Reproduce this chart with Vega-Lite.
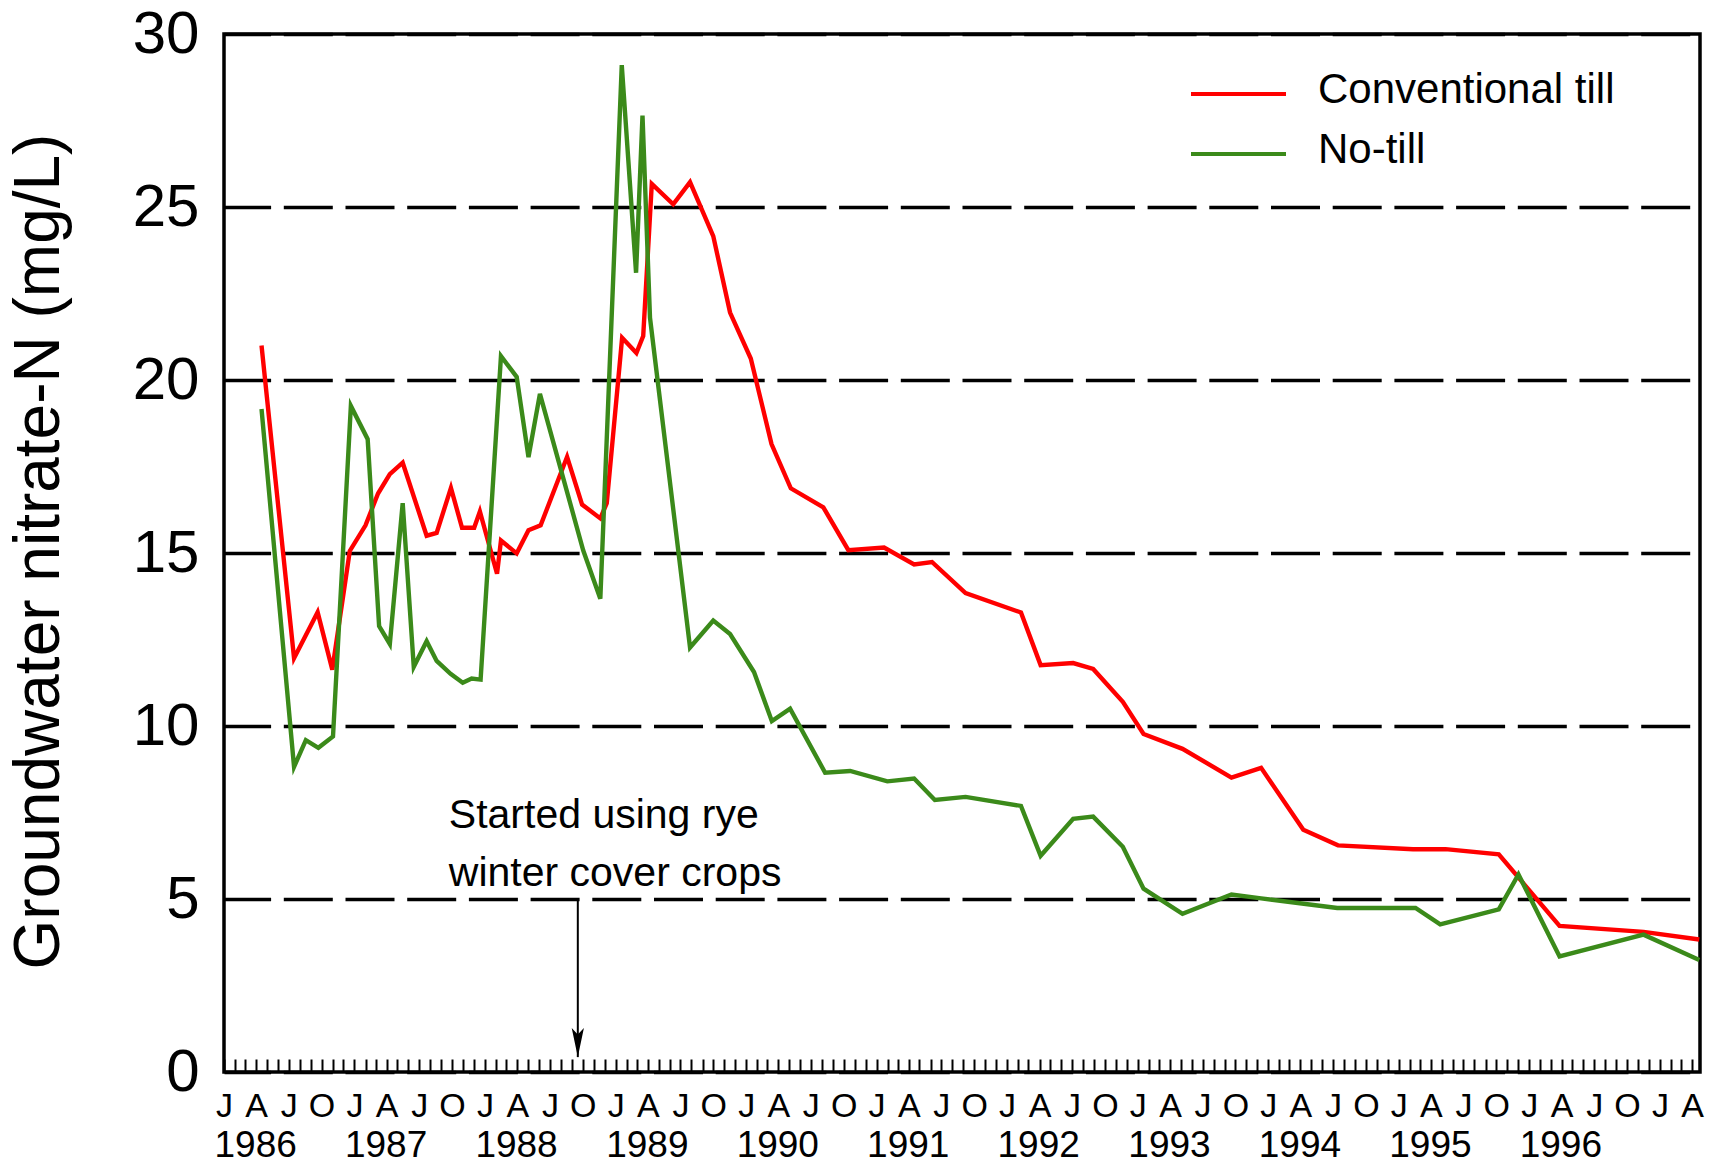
{
  "$schema": "https://vega.github.io/schema/vega-lite/v6.json",
  "width": 1476,
  "height": 1038,
  "autosize": {"type": "none"},
  "padding": {"left": 224, "top": 34, "right": 13, "bottom": 92},
  "background": "white",
  "config": {
    "view": {"stroke": "black", "strokeWidth": 3.5},
    "font": "Liberation Sans"
  },
  "datasets": {
    "series": [
      {"date": "1986-04-16", "series": "Conventional till", "value": 21.0},
      {"date": "1986-07-16", "series": "Conventional till", "value": 11.96},
      {"date": "1986-09-20", "series": "Conventional till", "value": 13.29},
      {"date": "1986-10-31", "series": "Conventional till", "value": 11.63},
      {"date": "1986-12-19", "series": "Conventional till", "value": 15.06},
      {"date": "1987-02-01", "series": "Conventional till", "value": 15.8},
      {"date": "1987-03-08", "series": "Conventional till", "value": 16.72},
      {"date": "1987-04-10", "series": "Conventional till", "value": 17.28},
      {"date": "1987-05-16", "series": "Conventional till", "value": 17.61},
      {"date": "1987-07-22", "series": "Conventional till", "value": 15.5},
      {"date": "1987-08-19", "series": "Conventional till", "value": 15.58},
      {"date": "1987-09-28", "series": "Conventional till", "value": 16.88},
      {"date": "1987-10-29", "series": "Conventional till", "value": 15.73},
      {"date": "1987-12-02", "series": "Conventional till", "value": 15.73},
      {"date": "1987-12-18", "series": "Conventional till", "value": 16.2},
      {"date": "1988-02-04", "series": "Conventional till", "value": 14.4},
      {"date": "1988-02-15", "series": "Conventional till", "value": 15.36},
      {"date": "1988-03-30", "series": "Conventional till", "value": 14.99},
      {"date": "1988-05-02", "series": "Conventional till", "value": 15.66},
      {"date": "1988-06-05", "series": "Conventional till", "value": 15.8},
      {"date": "1988-08-18", "series": "Conventional till", "value": 17.78},
      {"date": "1988-09-29", "series": "Conventional till", "value": 16.4},
      {"date": "1988-11-19", "series": "Conventional till", "value": 16.0},
      {"date": "1988-12-07", "series": "Conventional till", "value": 16.44},
      {"date": "1989-01-19", "series": "Conventional till", "value": 21.22},
      {"date": "1989-02-28", "series": "Conventional till", "value": 20.78},
      {"date": "1989-03-19", "series": "Conventional till", "value": 21.27},
      {"date": "1989-04-12", "series": "Conventional till", "value": 25.67},
      {"date": "1989-06-11", "series": "Conventional till", "value": 25.08},
      {"date": "1989-07-28", "series": "Conventional till", "value": 25.72},
      {"date": "1989-10-01", "series": "Conventional till", "value": 24.16},
      {"date": "1989-11-17", "series": "Conventional till", "value": 21.95},
      {"date": "1990-01-14", "series": "Conventional till", "value": 20.62},
      {"date": "1990-03-13", "series": "Conventional till", "value": 18.15},
      {"date": "1990-05-06", "series": "Conventional till", "value": 16.87},
      {"date": "1990-08-05", "series": "Conventional till", "value": 16.32},
      {"date": "1990-10-14", "series": "Conventional till", "value": 15.08},
      {"date": "1991-01-22", "series": "Conventional till", "value": 15.16},
      {"date": "1991-04-16", "series": "Conventional till", "value": 14.67},
      {"date": "1991-06-05", "series": "Conventional till", "value": 14.74},
      {"date": "1991-09-07", "series": "Conventional till", "value": 13.84},
      {"date": "1992-02-09", "series": "Conventional till", "value": 13.28},
      {"date": "1992-04-04", "series": "Conventional till", "value": 11.76},
      {"date": "1992-07-04", "series": "Conventional till", "value": 11.82},
      {"date": "1992-08-29", "series": "Conventional till", "value": 11.65},
      {"date": "1992-11-20", "series": "Conventional till", "value": 10.7},
      {"date": "1993-01-17", "series": "Conventional till", "value": 9.77},
      {"date": "1993-05-06", "series": "Conventional till", "value": 9.34},
      {"date": "1993-09-20", "series": "Conventional till", "value": 8.51},
      {"date": "1993-12-12", "series": "Conventional till", "value": 8.79},
      {"date": "1994-04-09", "series": "Conventional till", "value": 7.0},
      {"date": "1994-07-15", "series": "Conventional till", "value": 6.55},
      {"date": "1995-02-10", "series": "Conventional till", "value": 6.44},
      {"date": "1995-05-12", "series": "Conventional till", "value": 6.44},
      {"date": "1995-10-08", "series": "Conventional till", "value": 6.29},
      {"date": "1996-03-26", "series": "Conventional till", "value": 4.22},
      {"date": "1996-11-16", "series": "Conventional till", "value": 4.05},
      {"date": "1997-04-21", "series": "Conventional till", "value": 3.83},
      {"date": "1986-04-16", "series": "No-till", "value": 19.16},
      {"date": "1986-07-16", "series": "No-till", "value": 8.82},
      {"date": "1986-08-18", "series": "No-till", "value": 9.59},
      {"date": "1986-09-22", "series": "No-till", "value": 9.37},
      {"date": "1986-11-02", "series": "No-till", "value": 9.7},
      {"date": "1986-12-22", "series": "No-till", "value": 19.25},
      {"date": "1987-02-07", "series": "No-till", "value": 18.29},
      {"date": "1987-03-11", "series": "No-till", "value": 12.89},
      {"date": "1987-04-10", "series": "No-till", "value": 12.37},
      {"date": "1987-05-16", "series": "No-till", "value": 16.44},
      {"date": "1987-06-16", "series": "No-till", "value": 11.71},
      {"date": "1987-07-22", "series": "No-till", "value": 12.45},
      {"date": "1987-08-19", "series": "No-till", "value": 11.88},
      {"date": "1987-09-27", "series": "No-till", "value": 11.51},
      {"date": "1987-10-31", "series": "No-till", "value": 11.25},
      {"date": "1987-11-25", "series": "No-till", "value": 11.37},
      {"date": "1987-12-20", "series": "No-till", "value": 11.34},
      {"date": "1988-02-15", "series": "No-till", "value": 20.69},
      {"date": "1988-03-30", "series": "No-till", "value": 20.09},
      {"date": "1988-05-02", "series": "No-till", "value": 17.77},
      {"date": "1988-06-03", "series": "No-till", "value": 19.6},
      {"date": "1988-10-02", "series": "No-till", "value": 15.08},
      {"date": "1988-11-19", "series": "No-till", "value": 13.68},
      {"date": "1989-01-18", "series": "No-till", "value": 29.1},
      {"date": "1989-02-27", "series": "No-till", "value": 23.1},
      {"date": "1989-03-17", "series": "No-till", "value": 27.64},
      {"date": "1989-04-07", "series": "No-till", "value": 21.8},
      {"date": "1989-07-28", "series": "No-till", "value": 12.27},
      {"date": "1989-10-01", "series": "No-till", "value": 13.05},
      {"date": "1989-11-17", "series": "No-till", "value": 12.66},
      {"date": "1990-01-23", "series": "No-till", "value": 11.56},
      {"date": "1990-03-14", "series": "No-till", "value": 10.14},
      {"date": "1990-05-04", "series": "No-till", "value": 10.5},
      {"date": "1990-08-10", "series": "No-till", "value": 8.65},
      {"date": "1990-10-19", "series": "No-till", "value": 8.7},
      {"date": "1991-01-31", "series": "No-till", "value": 8.4},
      {"date": "1991-04-16", "series": "No-till", "value": 8.48},
      {"date": "1991-06-13", "series": "No-till", "value": 7.86},
      {"date": "1991-09-07", "series": "No-till", "value": 7.95},
      {"date": "1992-02-09", "series": "No-till", "value": 7.69},
      {"date": "1992-04-04", "series": "No-till", "value": 6.25},
      {"date": "1992-07-04", "series": "No-till", "value": 7.32},
      {"date": "1992-08-29", "series": "No-till", "value": 7.38},
      {"date": "1992-11-20", "series": "No-till", "value": 6.51},
      {"date": "1993-01-17", "series": "No-till", "value": 5.3},
      {"date": "1993-05-06", "series": "No-till", "value": 4.57},
      {"date": "1993-09-20", "series": "No-till", "value": 5.13},
      {"date": "1993-12-12", "series": "No-till", "value": 5.02},
      {"date": "1994-07-13", "series": "No-till", "value": 4.74},
      {"date": "1995-02-17", "series": "No-till", "value": 4.74},
      {"date": "1995-04-27", "series": "No-till", "value": 4.27},
      {"date": "1995-10-08", "series": "No-till", "value": 4.7},
      {"date": "1995-12-02", "series": "No-till", "value": 5.71},
      {"date": "1996-03-26", "series": "No-till", "value": 3.34},
      {"date": "1996-11-16", "series": "No-till", "value": 3.97},
      {"date": "1997-04-21", "series": "No-till", "value": 3.24}
    ],
    "arrow": [
      {"date": "1988-09-17", "top": 5, "tip": 0.43, "head": 0.853}
    ],
    "note": [
      {"date": "1987-09-22", "value": 7.05, "label": ["Started using rye", "winter cover crops"]}
    ]
  },
  "layer": [
    {
      "data": {"name": "series"},
      "mark": {"type": "line", "strokeWidth": 4.4},
      "encoding": {
        "x": {
          "field": "date", "type": "temporal",
          "scale": {"type": "utc", "nice": false, "domain": [{"year": 1986, "month": 1, "date": 1, "utc": true}, {"year": 1997, "month": 4, "date": 23, "utc": true}]},
          "axis": {
            "orient": "bottom", "title": null, "domain": false, "ticks": false, "grid": false,
            "tickCount": {"interval": "month", "step": 3},
            "labelExpr": "substring(utcFormat(datum.value, '%b'), 0, 1)",
            "labelFont": "Liberation Sans", "labelFontSize": 34, "labelColor": "black",
            "labelBaseline": "alphabetic", "labelAlign": "center", "labelPadding": 44,
            "labelFlush": false, "labelBound": false, "labelOverlap": false
          }
        },
        "y": {
          "field": "value", "type": "quantitative",
          "scale": {"domain": [0, 30], "nice": false, "zero": true},
          "axis": {
            "orient": "left",
            "title": "Groundwater nitrate-N (mg/L)",
            "values": [0, 5, 10, 15, 20, 25, 30],
            "domain": false, "ticks": false,
            "grid": true, "gridColor": "black", "gridWidth": 3.5, "gridOpacity": 1,
            "gridDash": [49, 12.7], "gridDashOffset": 2.4,
            "labelFont": "Liberation Sans", "labelFontSize": 60, "labelColor": "black",
            "labelPadding": 25, "labelBaseline": "middle", "labelAlign": "right",
            "labelFlush": false, "labelBound": false, "labelOverlap": false,
            "titleFont": "Liberation Sans", "titleFontSize": 64, "titleFontWeight": "normal", "titleColor": "black",
            "titleAngle": -90, "titleAlign": "center", "titleBaseline": "middle",
            "titleX": -185, "titleY": 517
          }
        },
        "color": {
          "field": "series", "type": "nominal",
          "scale": {"domain": ["Conventional till", "No-till"], "range": ["#FF0000", "#3B8A1A"]},
          "legend": {
            "title": null, "orient": "none", "legendX": 965, "legendY": 39,
            "symbolType": "stroke", "symbolSize": 9025, "symbolStrokeWidth": 4,
            "clipHeight": 42, "rowPadding": 14, "labelOffset": 30, "padding": 0,
            "labelFont": "Liberation Sans", "labelFontSize": 42, "labelColor": "black", "labelLimit": 0,
            "encode": {"labels": {"update": {"dy": {"value": -4}}}}
          }
        }
      }
    },
    {
      "data": {"name": "arrow"},
      "mark": {"type": "rule", "strokeWidth": 2, "color": "black"},
      "encoding": {
        "x": {
          "field": "date", "type": "temporal",
          "scale": {"type": "utc", "nice": false, "domain": [{"year": 1986, "month": 1, "date": 1, "utc": true}, {"year": 1997, "month": 4, "date": 23, "utc": true}]},
          "axis": {
            "orient": "bottom", "title": null, "domain": false, "ticks": false, "grid": false,
            "tickCount": {"interval": "year", "step": 1},
            "labelExpr": "utcyear(datum.value) <= 1996 ? utcFormat(datum.value, '%Y') : ''",
            "labelFont": "Liberation Sans", "labelFontSize": 37, "labelColor": "black",
            "labelBaseline": "alphabetic", "labelAlign": "left", "labelOffset": -10, "labelPadding": 84,
            "labelFlush": false, "labelBound": false, "labelOverlap": false
          }
        },
        "y": {"field": "top", "type": "quantitative", "scale": {"domain": [0, 30], "nice": false}, "axis": null},
        "y2": {"field": "tip"}
      }
    },
    {
      "data": {"name": "arrow"},
      "mark": {"type": "point", "filled": true, "color": "black", "opacity": 1, "size": 841, "shape": "M0,1 L-0.42,-1 L0,-0.55 L0.42,-1 Z"},
      "encoding": {
        "x": {"field": "date", "type": "temporal", "scale": {"type": "utc", "nice": false, "domain": [{"year": 1986, "month": 1, "date": 1, "utc": true}, {"year": 1997, "month": 4, "date": 23, "utc": true}]}, "axis": null},
        "y": {"field": "head", "type": "quantitative", "scale": {"domain": [0, 30], "nice": false}, "axis": null}
      }
    },
    {
      "data": {"name": "note"},
      "mark": {"type": "text", "align": "left", "baseline": "alphabetic", "font": "Liberation Sans", "fontSize": 41, "lineHeight": 58, "color": "black"},
      "encoding": {
        "x": {
          "field": "date", "type": "temporal",
          "scale": {"type": "utc", "nice": false, "domain": [{"year": 1986, "month": 1, "date": 1, "utc": true}, {"year": 1997, "month": 4, "date": 23, "utc": true}]},
          "axis": {
            "orient": "bottom", "title": null, "domain": false, "grid": false, "labels": false,
            "ticks": true, "tickCount": {"interval": "month", "step": 1},
            "tickSize": -13, "tickWidth": 2, "tickColor": "black", "tickOpacity": 1
          }
        },
        "y": {"field": "value", "type": "quantitative", "scale": {"domain": [0, 30], "nice": false}, "axis": null},
        "text": {"field": "label"}
      }
    }
  ],
  "resolve": {"axis": {"x": "independent", "y": "independent"}}
}
